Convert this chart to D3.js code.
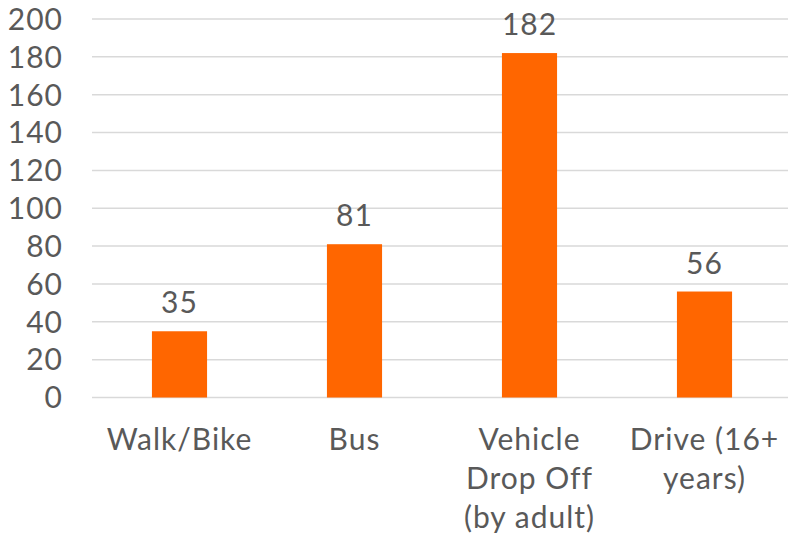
<!DOCTYPE html>
<html>
<head>
<meta charset="utf-8">
<script src="https://cdn.jsdelivr.net/npm/d3@7"></script>
<style>
  body { margin: 0; background: #fff; }
  text { font-family: "Lato", "Liberation Sans", sans-serif; fill: #595959; letter-spacing: 1px; }
</style>
</head>
<body>
<div id="chart"></div>
<script>
const categories = [["Walk/Bike"], ["Bus"], ["Vehicle", "Drop Off", "(by adult)"], ["Drive (16+", "years)"]]
const values = [35, 81, 182, 56]
const yTicks = [0, 20, 40, 60, 80, 100, 120, 140, 160, 180, 200]

const width = 788
const height = 536
const plotLeft = 92
const plotRight = 792
const plotTop = 19
const plotBottom = 397.5

const svg = d3.select("#chart")
  .append("svg")
  .attr("width", width)
  .attr("height", height)

const x = d3.scaleBand()
  .domain(d3.range(categories.length))
  .range([plotLeft, plotRight])
  .paddingInner(0.685)
  .paddingOuter(0.3425)

const y = d3.scaleLinear()
  .domain([0, 200])
  .range([plotBottom, plotTop])

// gridlines
svg.append("g")
  .selectAll("line")
  .data(yTicks)
  .enter()
  .append("line")
  .attr("x1", plotLeft)
  .attr("x2", width)
  .attr("y1", d => y(d))
  .attr("y2", d => y(d))
  .attr("stroke", "#d9d9d9")
  .attr("stroke-width", 1.5)

// y tick labels
svg.append("g")
  .selectAll("text")
  .data(yTicks)
  .enter()
  .append("text")
  .attr("x", 63)
  .attr("y", d => y(d))
  .attr("dy", "0.36em")
  .attr("text-anchor", "end")
  .style("font-size", "30px")
  .text(d => d)

// bars
svg.append("g")
  .selectAll("rect")
  .data(values)
  .enter()
  .append("rect")
  .attr("x", (d, i) => x(i))
  .attr("width", x.bandwidth())
  .attr("y", d => y(d))
  .attr("height", d => y(0) - y(d))
  .attr("fill", "#ff6600")

// value labels
svg.append("g")
  .selectAll("text")
  .data(values)
  .enter()
  .append("text")
  .attr("x", (d, i) => x(i) + x.bandwidth() / 2)
  .attr("y", d => y(d) - 18)
  .attr("text-anchor", "middle")
  .style("font-size", "30px")
  .text(d => d)

// category labels
const cat = svg.append("g")
  .selectAll("text")
  .data(categories)
  .enter()
  .append("text")
  .attr("text-anchor", "middle")
  .style("font-size", "30px")
  .attr("transform", (d, i) => "translate(" + (x(i) + x.bandwidth() / 2) + ",450)")

cat.selectAll("tspan")
  .data(d => d)
  .enter()
  .append("tspan")
  .attr("x", 0)
  .attr("y", (d, i) => i * 39)
  .text(d => d)
</script>
</body>
</html>
